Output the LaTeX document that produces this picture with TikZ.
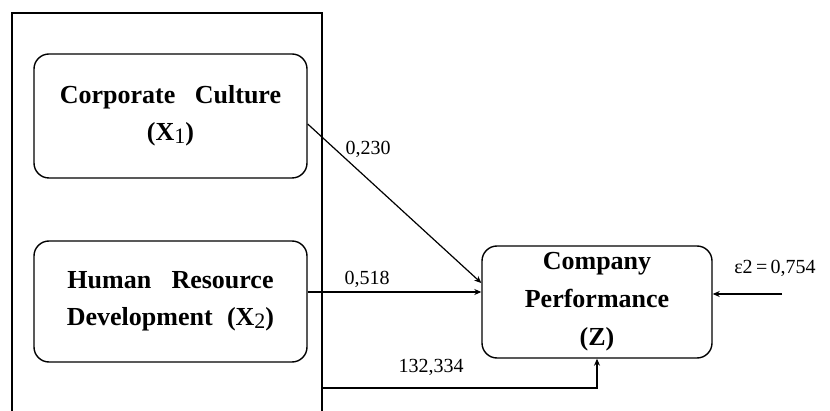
\documentclass[tikz,border=0pt]{standalone}
\usepackage{fontspec}
\setmainfont{Liberation Serif}
\usetikzlibrary{arrows.meta}
\newcommand{\subidx}[1]{\raisebox{-0.12em}{\fontsize{22}{22}\selectfont\mdseries #1}}
\begin{document}
\begin{tikzpicture}[x=1pt, y=-1pt,
  var/.style={draw, line width=1.4pt, rounded corners=15pt, inner sep=0pt,
    align=center, font=\fontsize{26}{37}\selectfont\bfseries},
  path/.style={line width=1.2pt, -{Stealth[length=7pt,width=6pt]}},
  coef/.style={inner sep=0pt, anchor=base, font=\fontsize{20}{20}\selectfont}]
  \useasboundingbox (0,0) rectangle (830,411);
  \fill[white] (0,0) rectangle (830,411);

  % open frame around the exogenous variables
  \draw[line width=1.5pt] (12,411) -- (12,13) -- (322,13) -- (322,411);

  \node[var, minimum width=273pt, minimum height=124pt] (cc) at (170.5,116)
    {Corporate\hspace{0.75em}Culture\\(X\subidx{1})};
  \node[var, minimum width=273pt, minimum height=121pt] (hrd) at (170.5,301.5)
    {Human\hspace{0.78em}Resource\\Development\hspace{0.55em}(X\subidx{2})};
  \node[var, minimum width=230pt, minimum height=112pt, font=\fontsize{26}{38}\selectfont\bfseries] (cp) at (597,302)
    {Company\\Performance\\(Z)};

  \coordinate (fr) at (322,388);
  \coordinate (err) at (782,294);

  \draw[path] ([yshift=-8pt]cc.east) -- ([yshift=19pt]cp.west);
  \draw[path] (hrd.east |- 0,292) -- (cp.west |- 0,292);
  \draw[path] (fr) -- (fr -| cp.south) -- (cp.south);
  \draw[path] (err) -- (err -| cp.east);

  \node[coef] (l1) at (368,155) {0,230};
  \node[coef] (l2) at (367,285) {0,518};
  \node[coef] (l3) at (431,373) {132,334};
  \node[coef] (l4) at (775,274) {ε2\,=\,0,754};
\end{tikzpicture}
\end{document}
